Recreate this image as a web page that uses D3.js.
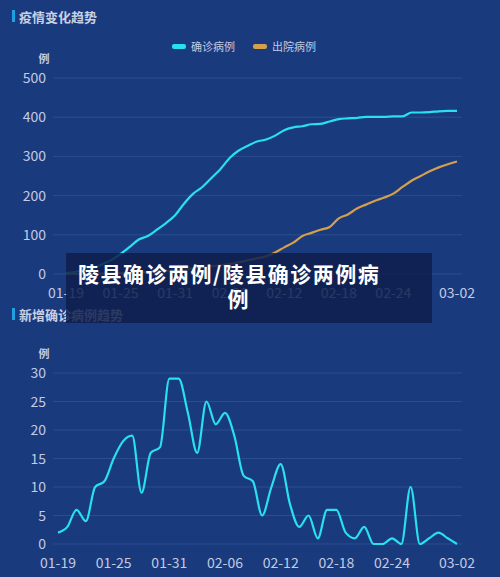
<!DOCTYPE html><html><head><meta charset="utf-8">
<script src="https://cdn.jsdelivr.net/npm/d3@7"></script>
<style>body{margin:0;background:#1a3a7e}svg{display:block;font-family:"Noto Sans CJK SC","Noto Sans",sans-serif}</style></head><body>
<svg id="c" width="500" height="577"></svg>
<script>
const dates=["01-19","01-20","01-21","01-22","01-23","01-24","01-25","01-26","01-27","01-28","01-29","01-30","01-31","02-01","02-02","02-03","02-04","02-05","02-06","02-07","02-08","02-09","02-10","02-11","02-12","02-13","02-14","02-15","02-16","02-17","02-18","02-19","02-20","02-21","02-22","02-23","02-24","02-25","02-26","02-27","02-28","02-29","03-01","03-02"];
const confirmed=[2,5,11,15,25,36,51,69,88,97,113,130,150,180,205,222,245,268,296,315,327,338,343,353,367,374,377,382,383,389,395,397,398,401,401,401,402,402,412,412,413,415,416,416];
const discharged=[0,0,0,1,1,2,2,3,4,5,6,8,10,12,14,17,20,22,25,30,35,40,45,55,68,80,97,105,113,120,142,152,167,177,187,195,205,222,238,250,262,272,280,287];
const daily=[2,3,6,4,10,11,15,18,19,9,16,17,29,29,23,16,25,21,23,19,12,11,5,10,14,7,3,5,1,6,6,2,1,3,0,0,1,0,10,0,1,2,1,0];
const tickDates=["01-19","01-25","01-31","02-06","02-12","02-18","02-24","03-02"];
const topTicks=[0,100,200,300,400,500], botTicks=[0,5,10,15,20,25,30];
const svg=d3.select("#c");
const tc="#c3cbe0";
function chart(y0,y1,x0,x1,max,ticks,series,title,ty){
  svg.append("rect").attr("x",12).attr("y",ty-8).attr("width",3).attr("height",12).attr("fill","#1fa0e0");
  svg.append("text").attr("x",19).attr("y",ty+4).attr("fill","#c8d0e4").attr("font-size",13).attr("font-weight","bold").text(title);
  const x=d3.scalePoint().domain(dates).range([x0,x1]);
  const y=d3.scaleLinear().domain([0,max]).range([y0,y1]);
  const g=svg.append("g");
  ticks.forEach(t=>{g.append("line").attr("x1",53).attr("x2",462).attr("y1",y(t)).attr("y2",y(t)).attr("stroke","#2b4d92").attr("stroke-width",1);
    g.append("text").attr("x",46).attr("y",y(t)+5).attr("text-anchor","end").attr("fill",tc).attr("font-size",14).text(t);});
  g.append("text").attr("x",44).attr("y",y1-15).attr("text-anchor","middle").attr("fill",tc).attr("font-size",11).attr("font-weight","bold").text("例");
  tickDates.forEach(d=>g.append("text").attr("x",x(d)).attr("y",y0+24).attr("text-anchor","middle").attr("fill",tc).attr("font-size",14).text(d));
  series.forEach(([data,col])=>{
    g.append("path").attr("d",d3.line().x((d,i)=>x(dates[i])).y(d=>y(d)).curve(d3.curveMonotoneX)(data)).attr("fill","none").attr("stroke",col).attr("stroke-width",2.2);
  });
}
chart(274,78,66,457,500,topTicks,[[discharged,"#d4a04c"],[confirmed,"#28e0ee"]],"疫情变化趋势",18);
chart(544,373,58,457,30,botTicks,[[daily,"#28e0ee"]],"新增确诊病例趋势",316);
const lg=svg.append("g");
[["确诊病例","#28e0ee",172],["出院病例","#d4a04c",253]].forEach(([t,c,x])=>{
  lg.append("rect").attr("x",x).attr("y",44).attr("width",14).attr("height",5).attr("rx",2).attr("fill",c);
  lg.append("text").attr("x",x+19).attr("y",51).attr("fill","#c3cbe0").attr("font-size",11).text(t);
});
svg.append("rect").attr("x",66).attr("y",253).attr("width",366).attr("height",70).attr("fill","#0f1f4c").attr("opacity",0.85);
svg.append("text").attr("x",78).attr("y",282).attr("fill","#fff").attr("font-size",21).attr("letter-spacing",1.5).attr("font-weight","bold").text("陵县确诊两例/陵县确诊两例病");
svg.append("text").attr("x",238).attr("y",307).attr("text-anchor","middle").attr("fill","#fff").attr("font-size",21).attr("font-weight","bold").text("例");
</script></body></html>
